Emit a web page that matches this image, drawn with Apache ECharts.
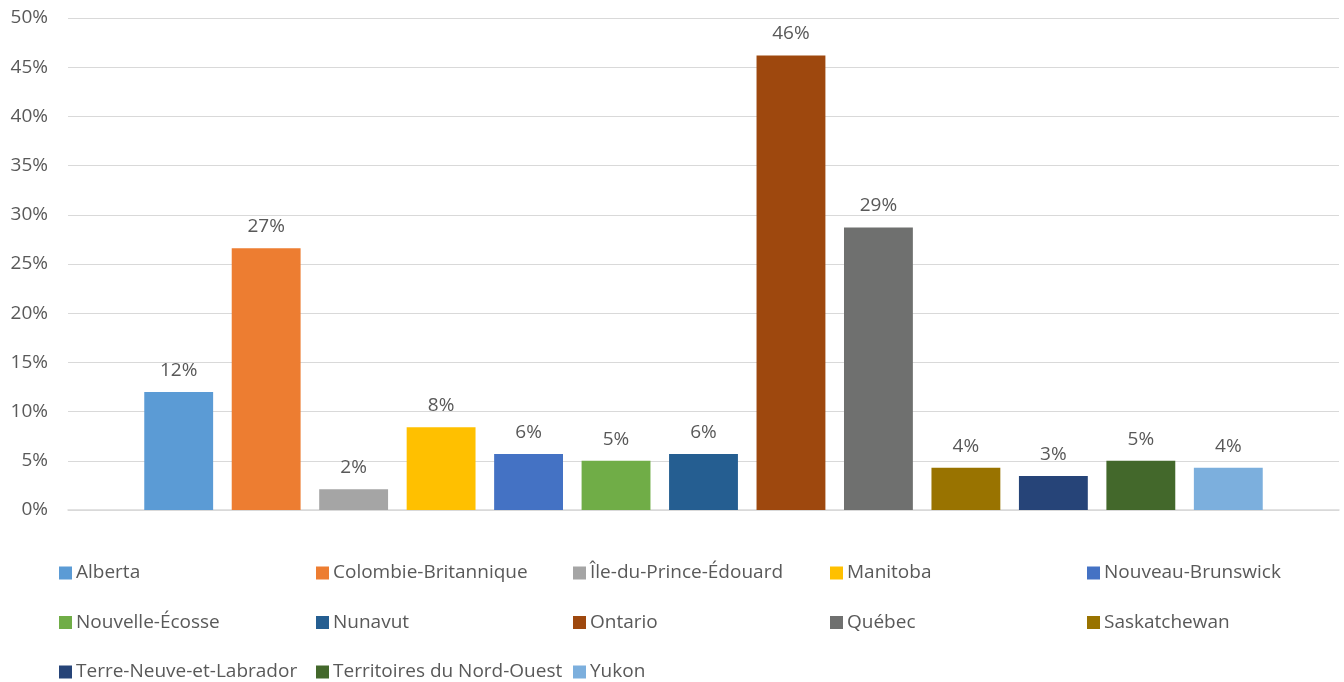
<!DOCTYPE html>
<html>
<head>
<meta charset="utf-8">
<script src="https://cdn.jsdelivr.net/npm/echarts@6/dist/echarts.min.js"></script>
<style>
  html, body { margin: 0; padding: 0; background: #fff; }
  #chart { width: 1344px; height: 682px; }
</style>
</head>
<body>
<div id="chart"></div>
<script>
// Share by province / territory (percent)
const provinces = [
  'Alberta', 'Colombie-Britannique', 'Île-du-Prince-Édouard', 'Manitoba',
  'Nouveau-Brunswick', 'Nouvelle-Écosse', 'Nunavut', 'Ontario', 'Québec',
  'Saskatchewan', 'Terre-Neuve-et-Labrador', 'Territoires du Nord-Ouest', 'Yukon'
];
const shares = [12.0, 26.6, 2.1, 8.4, 5.7, 5.0, 5.7, 46.2, 28.7, 4.3, 3.45, 5.0, 4.3];
const colors = [
  '#5B9BD5', '#ED7D31', '#A5A5A5', '#FFC000', '#4472C4', '#70AD47', '#255E91',
  '#9E480E', '#6F706F', '#997300', '#264478', '#43682B', '#7CAFDD'
];
const yTicks = { min: 0, max: 50, interval: 5 };

const FONT = 'Open Sans';
const TEXT = '#595959';
const FONT_SIZE = 19;

const series = provinces.map((name, i) => ({
  name: name,
  type: 'bar',
  data: [shares[i]],
  itemStyle: { color: colors[i] },
  barGap: '27%',
  barCategoryGap: '12%',
  label: {
    show: true,
    position: 'top',
    distance: 12,
    color: TEXT,
    fontFamily: FONT,
    fontSize: FONT_SIZE,
    formatter: p => Math.round(p.value) + '%'
  }
}));

// Legend laid out as a 5-column grid, one component per entry
const legends = provinces.map((name, i) => ({
  data: [name],
  left: 59 + (i % 5) * 257,
  top: 563 + Math.floor(i / 5) * 49.5,
  itemWidth: 13,
  itemHeight: 13,
  itemGap: 0,
  icon: 'rect',
  padding: 0,
  textStyle: {
    color: TEXT, fontFamily: FONT, fontSize: FONT_SIZE, lineHeight: 20,
    padding: [0, 0, 0, -1]
  }
}));

const chart = echarts.init(document.getElementById('chart'));
chart.setOption({
  animation: false,
  grid: { left: 68, right: 5, top: 18, bottom: 172, containLabel: false },
  legend: legends,
  xAxis: {
    type: 'category',
    data: [''],
    axisLine: { lineStyle: { color: '#D9D9D9', width: 1.5 } },
    axisTick: { show: false },
    axisLabel: { show: false }
  },
  yAxis: {
    type: 'value',
    min: yTicks.min,
    max: yTicks.max,
    interval: yTicks.interval,
    axisLine: { show: false },
    axisTick: { show: false },
    splitLine: { lineStyle: { color: '#D9D9D9', width: 1.2 } },
    axisLabel: {
      color: TEXT,
      fontFamily: FONT,
      fontSize: FONT_SIZE,
      margin: 20,
      formatter: '{value}%'
    }
  },
  series: series
});
</script>
</body>
</html>
